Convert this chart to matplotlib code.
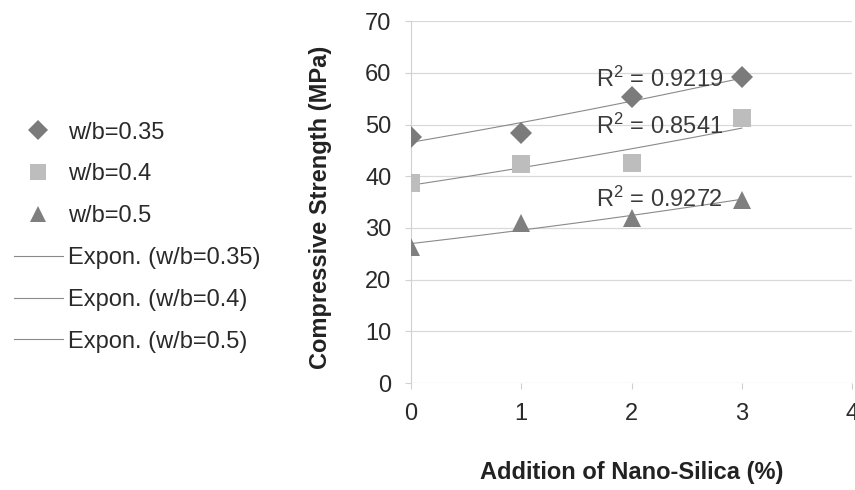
import numpy as np
import matplotlib.pyplot as plt

plt.rcParams['font.family'] = ['Liberation Sans', 'DejaVu Sans']

nano = [0, 1, 2, 3]
wb035 = [47.6, 48.4, 55.3, 59.2]
wb04 = [38.7, 42.3, 42.5, 51.2]
wb05 = [26.3, 31.0, 31.9, 35.4]
r2 = ['0.9219', '0.8541', '0.9272']
names = ['w/b=0.35', 'w/b=0.4', 'w/b=0.5']

fs = 17

fig = plt.figure(figsize=(8.55, 4.9), dpi=100)
ax = fig.add_axes([0.4807, 0.218, 0.516, 0.739])

series = [wb035, wb04, wb05]
markers = ['D', 's', '^']
colors = ['#7b7b7b', '#bdbdbd', '#7f7f7f']
sizes = [11, 13, 13]

pts = []
for y, m, c, s, n in zip(series, markers, colors, sizes, names):
    h, = ax.plot(nano, y, m, color=c, markersize=s, markeredgewidth=0, label=n, zorder=3)
    pts.append(h)

# exponential trendlines
xs = np.linspace(0, 3, 50)
trends = []
for y, n in zip(series, names):
    b, a = np.polyfit(nano, np.log(y), 1)
    h, = ax.plot(xs, np.exp(a) * np.exp(b * xs), color='#8a8a8a', lw=0.8,
                 label='Expon. (' + n + ')', zorder=2)
    trends.append(h)

# R^2 labels
for r, yt in zip(r2, [58.8, 49.6, 35.6]):
    ax.text(1.68, yt, '$\\mathregular{R^2}$ = ' + r, fontsize=fs, color='#3a3a3a',
            va='center', ha='left', zorder=4)

ax.set_xlim(0, 4)
ax.set_ylim(0, 70)
ax.set_xticks([0, 1, 2, 3, 4])
ax.set_yticks(range(0, 71, 10))
ax.grid(axis='y', color='#d9d9d9', lw=0.9)
ax.set_axisbelow(True)
for s in ['top', 'right', 'bottom']:
    ax.spines[s].set_visible(False)
ax.spines['left'].set_color('#d0d0d0')
ax.tick_params(axis='y', length=4, color='#d0d0d0', labelsize=fs, pad=10, colors='#2a2a2a')
ax.tick_params(axis='x', length=4, color='#d0d0d0', labelsize=fs, pad=10, colors='#2a2a2a')
ax.set_xlabel('Addition of Nano-Silica (%)', fontsize=fs, fontweight='bold', color='#222222')
ax.set_ylabel('Compressive Strength (MPa)', fontsize=fs, fontweight='bold', color='#222222')
ax.xaxis.set_label_coords(0.5, -0.215)
ax.yaxis.set_label_coords(-0.179, 0.485)

fig.legend(handles=pts + trends, loc='upper left', bbox_to_anchor=(0.0165, 0.752),
           frameon=False, fontsize=fs, labelspacing=0.84, handlelength=2.06,
           handletextpad=0.22, borderpad=0, borderaxespad=0, markerscale=0.9,
           labelcolor='#2a2a2a')

fig.savefig('out.png', dpi=100)
